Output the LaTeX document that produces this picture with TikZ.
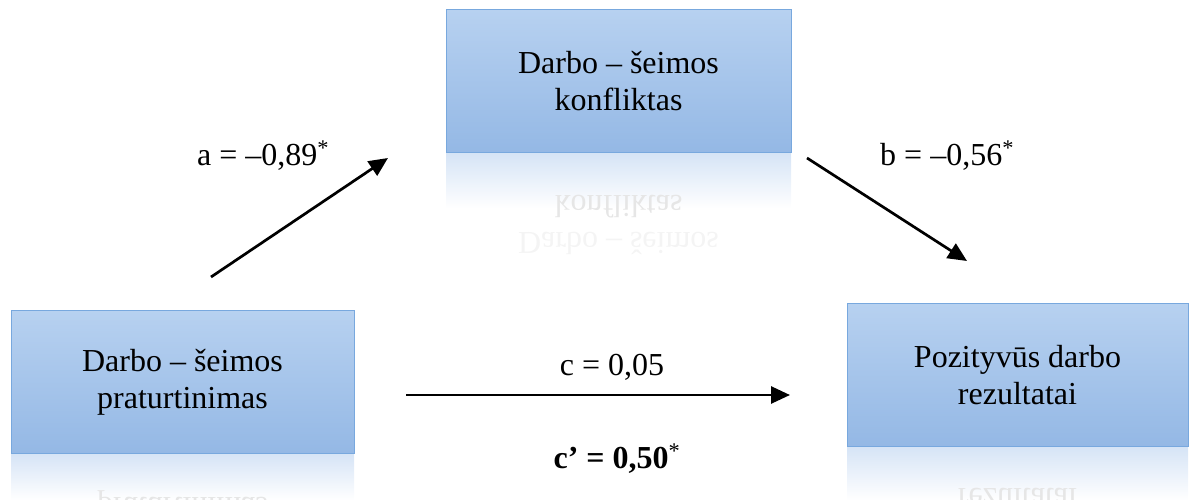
\documentclass[tikz,border=0pt]{standalone}
\usepackage{fontspec}
\setmainfont{Liberation Serif}
\usetikzlibrary{arrows.meta}
\definecolor{boxtop}{HTML}{B7D1F0}
\definecolor{boxbot}{HTML}{94B8E5}
\definecolor{boxline}{HTML}{78A8DE}
\definecolor{refl}{HTML}{D6E4F6}
\definecolor{reflnear}{HTML}{E6E6E6}
\definecolor{reflfar}{HTML}{F4F4F4}
\tikzset{
  mbox/.style={draw=boxline, line width=1pt, top color=boxtop, bottom color=boxbot,
    minimum height=143pt, align=center, inner sep=0pt,
    font=\fontsize{32}{37}\selectfont},
  reflshade/.style={top color=refl, bottom color=white, draw=none},
  refltxt/.style={anchor=base, inner sep=0pt, font=\fontsize{32}{37}\selectfont},
  arr/.style={line width=2.7pt, -{Triangle[length=19pt,width=17pt]}},
  lbl/.style={anchor=base west, inner sep=0pt, font=\fontsize{32}{37}\selectfont},
  clbl/.style={anchor=base, inner sep=0pt, font=\fontsize{32}{37}\selectfont},
}
\begin{document}
\begin{tikzpicture}[x=1pt,y=-1pt]
\useasboundingbox (0,0) rectangle (1189,500);

% reflections (drawn first)
\shade[reflshade] (446,154) rectangle (791,208);
\shade[reflshade] (11,454) rectangle (354,500);
\shade[reflshade] (847,447) rectangle (1188,500);
\node[refltxt, text=reflnear] (wfcr2) at (618.5,195) {\scalebox{1}[-1]{konfliktas}};
\node[refltxt, text=reflfar] (wfcr1) at (618.5,232) {\scalebox{1}[-1]{Darbo – šeimos}};
\node[refltxt, text=reflnear] (wfer2) at (182.5,497) {\scalebox{1}[-1]{praturtinimas}};
\node[refltxt, text=reflnear] (pwor2) at (1017.5,488) {\scalebox{1}[-1]{rezultatai}};

% boxes
\node[mbox, minimum width=345pt] (wfc) at (618.5,81) {Darbo – šeimos\\konfliktas};
\node[mbox, minimum width=343pt] (wfe) at (182.5,382) {Darbo – šeimos\\praturtinimas};
\node[mbox, minimum width=341pt] (pwo) at (1017.5,375) {Pozityvūs darbo\\rezultatai};

% arrow end points
\coordinate (a0) at (211,277);
\coordinate (a1) at (388,158);
\coordinate (b0) at (807,158);
\coordinate (b1) at (967,261);
\coordinate (c0) at (406,395);
\coordinate (c1) at (790,395);

\draw[arr] (a0) -- (a1);
\draw[arr] (b0) -- (b1);
\draw[arr] (c0) -- (c1);

% labels
\node[lbl] (la) at (197,165) {a = –0,89\textsuperscript{*}};
\node[lbl] (lb) at (880,165) {b = –0,56\textsuperscript{*}};
\node[clbl] (lc) at (612,375) {c = 0,05};
\node[clbl] (lcp) at (617,468) {\textbf{c’ = 0,50}\textsuperscript{*}};
\end{tikzpicture}
\end{document}
